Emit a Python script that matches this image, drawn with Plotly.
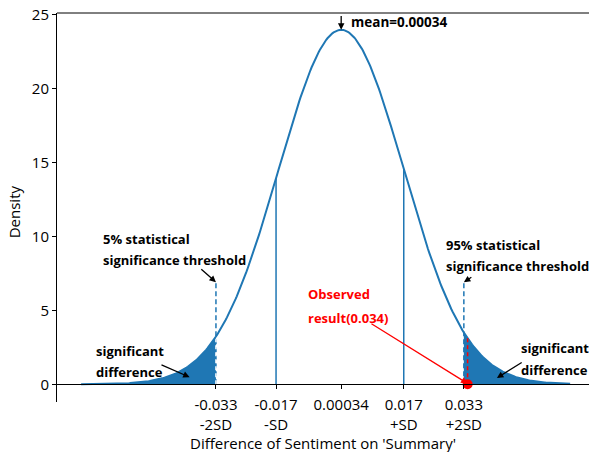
import numpy as np
import plotly.graph_objects as go

# Distribution parameters of the sentiment difference
mean = 0.00034
sd = 0.01665
x_start, x_end = -0.0689, 0.0613
n_points = 400

# Reference positions on the x axis
tick_vals = [-0.033, -0.017, 0.00034, 0.017, 0.033]
tick_text = ["-0.033<br>-2SD", "-0.017<br>-SD", "0.00034", "0.017<br>+SD", "0.033<br>+2SD"]
sd_lines = [-0.017, 0.017]
threshold_lines = [-0.033, 0.033]
threshold_height = 6.9
observed = 0.034

BLUE = "#1f77b4"
RED = "#ff0000"
FONT = "Open Sans"


def density(v):
    v = np.asarray(v, dtype=float)
    return np.exp(-0.5 * ((v - mean) / sd) ** 2) / (sd * np.sqrt(2 * np.pi))


x = np.linspace(x_start, x_end, n_points)
y = density(x)

fig = go.Figure()

# dashed threshold markers (drawn under the tail fills)
for t in threshold_lines:
    fig.add_trace(go.Scatter(x=[t, t], y=[0, threshold_height], mode="lines",
                             line=dict(color=BLUE, width=1.5, dash="5px,3px"),
                             hoverinfo="skip", showlegend=False))

# shaded tails beyond +/-2SD
left = x[x <= threshold_lines[0]]
left = np.append(left, threshold_lines[0])
right = x[x >= threshold_lines[1]]
right = np.insert(right, 0, threshold_lines[1])
for seg in (left, right):
    fx = np.concatenate([seg, [seg[-1], seg[0]]])
    fy = np.concatenate([density(seg), [0, 0]])
    fig.add_trace(go.Scatter(x=fx, y=fy, mode="lines", fill="toself",
                             fillcolor=BLUE, line=dict(width=0),
                             hoverinfo="skip", showlegend=False))

# white dashes across the left tail edge
fig.add_trace(go.Scatter(x=[threshold_lines[0]] * 2,
                         y=[0, float(density(threshold_lines[0]))], mode="lines",
                         line=dict(color="white", width=1.5, dash="4px,3px"),
                         hoverinfo="skip", showlegend=False))

# density curve
fig.add_trace(go.Scatter(x=x, y=y, mode="lines", line=dict(color=BLUE, width=2),
                         hoverinfo="skip", showlegend=False))

# solid +/-SD markers
for s in sd_lines:
    fig.add_trace(go.Scatter(x=[s, s], y=[0, float(density(s))], mode="lines",
                             line=dict(color=BLUE, width=1.5),
                             hoverinfo="skip", showlegend=False))

# observed result
fig.add_trace(go.Scatter(x=[observed, observed], y=[0, float(density(observed))],
                         mode="lines", line=dict(color=RED, width=1.5, dash="4px,3px"),
                         hoverinfo="skip", showlegend=False))
fig.add_trace(go.Scatter(x=[observed], y=[0], mode="markers",
                         marker=dict(color=RED, size=10), cliponaxis=False,
                         hoverinfo="skip", showlegend=False))

peak = float(density(mean))


def arrow(x0, y0, x1, y1, color="black"):
    fig.add_annotation(x=x1, y=y1, ax=x0, ay=y0, xref="x", yref="y",
                       axref="x", ayref="y", text="", showarrow=True,
                       arrowhead=2, arrowsize=1, arrowwidth=1.3,
                       arrowcolor=color, standoff=0, startstandoff=0)


def label(xv, yv, txt, color="black", size=13):
    fig.add_annotation(x=xv, y=yv, xref="x", yref="y", text="<b>%s</b>" % txt,
                       showarrow=False, xanchor="left", yanchor="middle",
                       font=dict(family=FONT, size=size, color=color))


# mean
arrow(mean, 25.0, mean, peak)
label(0.0024, 24.5, "mean=0.00034", size=13.5)

# 5% threshold
label(-0.0636, 9.8, "5% statistical")
label(-0.0636, 8.4, "significance threshold")
arrow(-0.0373, 7.87, threshold_lines[0], threshold_height)

# 95% threshold
label(0.0277, 9.4, "95% statistical")
label(0.0277, 8.0, "significance threshold")
arrow(0.0354, 7.3, threshold_lines[1], threshold_height)

# observed result
label(-0.0089, 6.1, "Observed", color=RED)
label(-0.0089, 4.5, "result(0.034)", color=RED)
arrow(0.0080, 4.15, observed, 0.05, color=RED)

# significant difference (left)
label(-0.0656, 2.25, "significant")
label(-0.0656, 0.8, "difference")
arrow(-0.0479, 1.35, -0.0400, 0.48)

# significant difference (right)
label(0.0477, 2.45, "significant")
label(0.0477, 0.95, "difference")
arrow(0.0488, 1.53, 0.0418, 0.42)

# axis titles
fig.add_annotation(x=0.5, y=-0.105, xref="paper", yref="paper",
                   text="Difference of Sentiment on 'Summary'", showarrow=False,
                   xanchor="center", yanchor="middle",
                   font=dict(family=FONT, size=15, color="black"))
fig.add_annotation(x=-0.081, y=0.49, xref="paper", yref="paper", text="Density",
                   textangle=-90, showarrow=False, xanchor="center", yanchor="middle",
                   font=dict(family=FONT, size=15, color="black"))

# top frame line
fig.add_shape(type="line", xref="paper", yref="paper", x0=0, x1=1, y0=1, y1=1,
              line=dict(color="black", width=1))

y_range = [-1.2, 25.1]
fig.update_layout(
    width=589, height=452,
    margin=dict(l=57, r=0, t=13, b=50),
    plot_bgcolor="white", paper_bgcolor="white",
    font=dict(family=FONT, size=15, color="black"),
    xaxis=dict(range=[-0.07532, 0.06632], tickvals=tick_vals, ticktext=tick_text,
               anchor="free", position=(0 - y_range[0]) / (y_range[1] - y_range[0]),
               showline=True, linecolor="black", linewidth=1,
               ticks="outside", ticklen=4, tickcolor="black", ticklabelstandoff=3,
               showgrid=False, zeroline=False,
               tickfont=dict(family=FONT, size=15, color="black")),
    yaxis=dict(range=y_range, tickvals=[0, 5, 10, 15, 20, 25],
               showline=True, linecolor="black", linewidth=1,
               ticks="outside", ticklen=4, tickcolor="black",
               showgrid=False, zeroline=False,
               tickfont=dict(family=FONT, size=15, color="black")),
)

fig.write_html("out.html")
